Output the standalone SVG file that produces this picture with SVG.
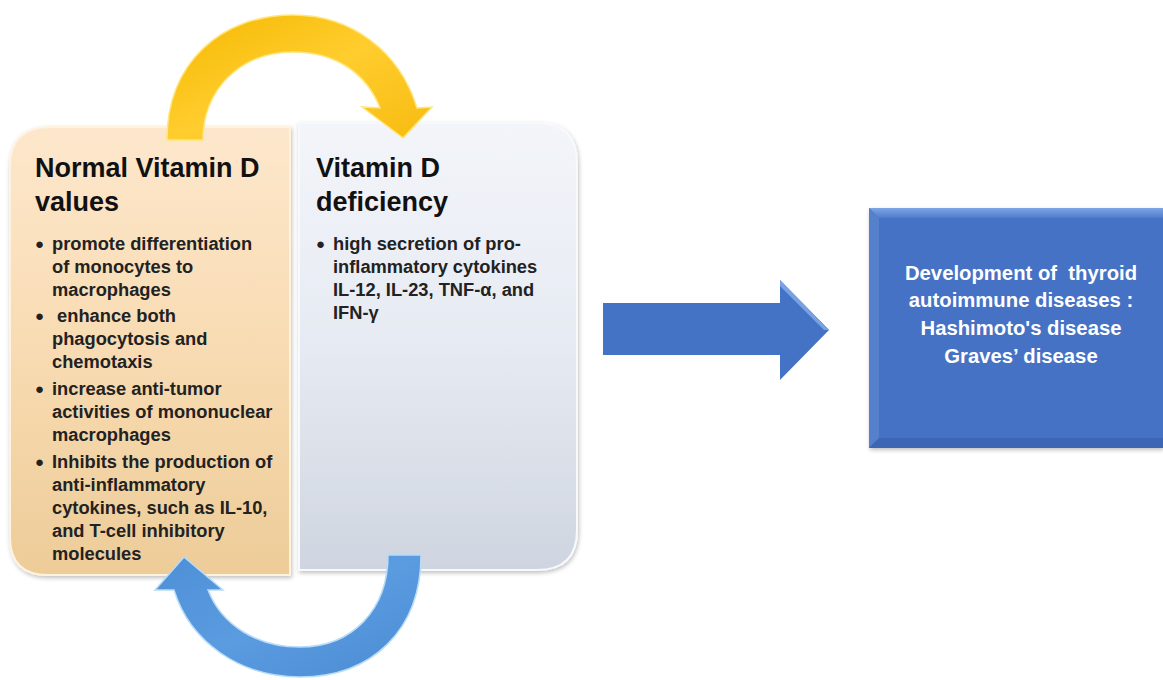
<svg xmlns="http://www.w3.org/2000/svg" width="1163" height="680" viewBox="0 0 1163 680">
<defs>
<style>
.hd{font-family:"Liberation Sans",Arial,sans-serif;font-weight:bold;font-size:27px;fill:#111}
.bt{font-family:"Liberation Sans",Arial,sans-serif;font-weight:bold;font-size:18.3px;fill:#222}
.bt text.b{font-size:15px}
.wt{font-family:"Liberation Sans",Arial,sans-serif;font-weight:bold;font-size:20.3px;fill:#fff;text-anchor:middle;white-space:pre}
</style>
<linearGradient id="gL" x1="0" y1="0" x2="0" y2="1">
<stop offset="0" stop-color="#fde7cc"/><stop offset="0.5" stop-color="#f8dbb2"/><stop offset="1" stop-color="#edcc98"/>
</linearGradient>
<linearGradient id="gR" x1="0" y1="0" x2="0" y2="1">
<stop offset="0" stop-color="#f3f5fa"/><stop offset="0.5" stop-color="#e6eaf2"/><stop offset="1" stop-color="#cfd5e0"/>
</linearGradient>
<linearGradient id="gY" x1="0" y1="0" x2="1" y2="1">
<stop offset="0" stop-color="#f5b800"/><stop offset="0.5" stop-color="#ffcd2e"/><stop offset="1" stop-color="#f7bb10"/>
</linearGradient>
<linearGradient id="gB" x1="0" y1="0" x2="1" y2="1">
<stop offset="0" stop-color="#4d8fd6"/><stop offset="0.5" stop-color="#5b9be0"/><stop offset="1" stop-color="#4a8bd3"/>
</linearGradient>
<linearGradient id="gT" x1="0" y1="0" x2="0" y2="1">
<stop offset="0" stop-color="#7ea6e6"/><stop offset="1" stop-color="#4f7ccb"/>
</linearGradient>
<filter id="sh" x="-10%" y="-10%" width="120%" height="120%">
<feDropShadow dx="1" dy="2" stdDeviation="2" flood-color="#000" flood-opacity="0.25"/>
</filter>
</defs>

<g id="normal-vitamin-d">
<path d="M10,167 Q10,127 50,127 L290,127 L290,575 L48,575 Q10,575 10,537 Z" fill="url(#gL)" stroke="#fff3e0" stroke-width="2" filter="url(#sh)"/>
<text class="hd" x="35" y="177">Normal Vitamin D</text>
<text class="hd" x="35" y="211">values</text>
<g class="bt">
<text class="b" x="35" y="249">●</text>
<text x="52" y="250">promote differentiation</text>
<text x="52" y="273">of monocytes to</text>
<text x="52" y="296">macrophages</text>
<text class="b" x="35" y="321">●</text>
<text x="52" y="322" xml:space="preserve"> enhance both</text>
<text x="52" y="345">phagocytosis and</text>
<text x="52" y="368">chemotaxis</text>
<text class="b" x="35" y="394">●</text>
<text x="52" y="395">increase anti-tumor</text>
<text x="52" y="418">activities of mononuclear</text>
<text x="52" y="441">macrophages</text>
<text class="b" x="35" y="467">●</text>
<text x="52" y="468">Inhibits the production of</text>
<text x="52" y="491">anti-inflammatory</text>
<text x="52" y="514">cytokines, such as IL-10,</text>
<text x="52" y="537">and T-cell inhibitory</text>
<text x="52" y="560">molecules</text>
</g>
</g>

<g id="vitamin-d-deficiency">
<path d="M299,123 L537,123 Q577,123 577,163 L577,530 Q577,570 537,570 L299,570 Z" fill="url(#gR)" stroke="#f8f9fc" stroke-width="2" filter="url(#sh)"/>
<text class="hd" x="316" y="177">Vitamin D</text>
<text class="hd" x="316" y="211">deficiency</text>
<g class="bt">
<text class="b" x="316" y="249">●</text>
<text x="333" y="250">high secretion of pro-</text>
<text x="333" y="273">inflammatory cytokines</text>
<text x="333" y="296">IL-12, IL-23, TNF-α, and</text>
<text x="333" y="319">IFN-γ</text>
</g>
</g>

<g id="thyroid-diseases">
<rect x="869" y="208" width="294" height="240" fill="#4472c4" filter="url(#sh)"/>
<polygon points="869,208 1163,208 1163,218 879,218" fill="url(#gT)"/>
<polygon points="869,208 879,218 879,438 869,448" fill="#5480cc"/>
<polygon points="869,448 879,438 1163,438 1163,448" fill="#3d67b5"/>
<text class="wt" x="1021" y="280" xml:space="preserve">Development of  thyroid</text>
<text class="wt" x="1021" y="307">autoimmune diseases :</text>
<text class="wt" x="1021" y="335">Hashimoto's disease</text>
<text class="wt" x="1021" y="363">Graves’ disease</text>
</g>

<g id="connectors">
<path d="M167,140 C167,62 222,15 293,15 C352,15 400,52 417,108 L432,107 L403,138 L362,107 L380,108 C366,72 334,52 293,52 C240,52 203,90 203,140 Z" fill="url(#gY)" stroke="#ffe680" stroke-width="1.5"/>
<path d="M388,555 L421,555 C421,630 372,677 300,677 C240,677 190,642 174,590 L155,590 L184,557 L223,590 L208,590 C222,626 258,647 300,647 C352,647 388,610 388,555 Z" fill="url(#gB)" stroke="#b8dcf8" stroke-width="1.5"/>
<path d="M603,303 L780,303 L780,280 L829,330 L780,380 L780,355 L603,355 Z" fill="#4472c4"/>
<path d="M780,280 L829,330 L824,330 L780,286 Z" fill="#7aa1e3"/>
</g>
</svg>
